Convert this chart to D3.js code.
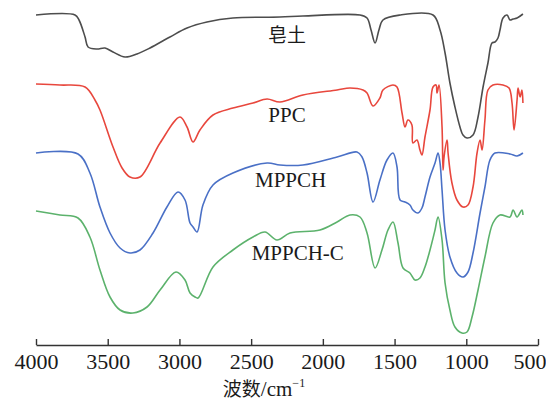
<!DOCTYPE html>
<html>
<head>
<meta charset="utf-8">
<script src="https://cdn.jsdelivr.net/npm/d3@7"></script>
<style>
    html, body { margin: 0; padding: 0; background: #fff; }
    svg { display: block; }
</style>
</head>
<body>
<div id="chart-container"></div>
<script>
// wavenumber (cm-1) and transmittance (offset, a.u.)
const bentoniteWn = [4000, 3728, 3700, 3658, 3637, 3575, 3519, 3463, 3379, 3296, 3205, 3066, 2947, 2808, 2627, 2299, 2139, 1741, 1692, 1664, 1636, 1609, 1581, 1462, 1232, 1183, 1148, 1114, 1079, 1044, 1023, 995, 953, 918, 883, 849, 821, 800, 779, 765, 744, 716, 695, 674, 646, 605];
const bentoniteT = [330, 330, 325, 308, 298, 296, 297, 293, 288, 291, 297, 308, 317, 323, 327, 328, 329, 330, 327, 315, 302, 315, 325, 330, 330, 315, 292, 262, 238, 218, 210, 207, 210, 228, 258, 282, 302, 303, 307, 315, 327, 330, 325, 326, 327, 331];

const ppcWn = [4000, 3833, 3658, 3589, 3554, 3463, 3400, 3345, 3275, 3135, 2996, 2947, 2905, 2857, 2766, 2627, 2487, 2389, 2299, 2139, 1901, 1811, 1720, 1692, 1650, 1602, 1581, 1511, 1483, 1448, 1427, 1407, 1379, 1372, 1344, 1323, 1309, 1288, 1253, 1232, 1211, 1204, 1190, 1169, 1162, 1155, 1134, 1127, 1100, 1065, 1023, 988, 953, 925, 904, 890, 870, 849, 814, 744, 702, 681, 667, 646, 639, 625, 612, 605];
const ppcT = [261, 260, 258, 245, 235, 198, 177, 168, 168, 202, 228, 218, 203, 215, 230, 237, 242, 246, 243, 250, 255, 257, 255, 252, 239, 247, 255, 260, 258, 232, 218, 225, 220, 202, 205, 195, 190, 208, 235, 258, 260, 252, 260, 218, 175, 188, 205, 192, 162, 145, 138, 140, 158, 192, 205, 195, 225, 255, 260, 260, 257, 242, 215, 245, 257, 248, 255, 242];

const mppchWn = [4000, 3707, 3624, 3554, 3484, 3414, 3345, 3275, 3184, 3087, 3010, 2961, 2926, 2905, 2877, 2836, 2766, 2627, 2389, 2299, 2139, 1901, 1762, 1727, 1692, 1650, 1602, 1553, 1511, 1483, 1462, 1427, 1393, 1372, 1337, 1309, 1288, 1253, 1218, 1197, 1183, 1169, 1148, 1114, 1065, 1023, 988, 953, 904, 870, 835, 800, 695, 646, 605];
const mppchT = [192, 191, 172, 138, 112, 97, 92, 95, 112, 138, 153, 145, 122, 118, 113, 140, 160, 172, 182, 180, 180, 188, 193, 188, 172, 143, 165, 185, 192, 178, 145, 143, 140, 135, 132, 137, 148, 168, 182, 192, 182, 155, 115, 88, 72, 68, 73, 92, 132, 158, 185, 192, 191, 189, 192];

const mppchcWn = [4000, 3833, 3707, 3624, 3554, 3484, 3414, 3324, 3226, 3135, 3024, 2961, 2926, 2891, 2870, 2766, 2627, 2487, 2403, 2320, 2229, 2020, 1901, 1811, 1741, 1692, 1636, 1588, 1546, 1511, 1476, 1441, 1393, 1358, 1323, 1288, 1253, 1218, 1197, 1169, 1148, 1114, 1079, 1030, 995, 960, 918, 870, 814, 765, 695, 674, 646, 612, 605];
const mppchcT = [134, 130, 127, 108, 75, 48, 35, 32, 38, 55, 73, 65, 52, 48, 47, 78, 95, 108, 113, 105, 112, 115, 123, 130, 128, 112, 77, 95, 115, 123, 102, 77, 72, 65, 67, 78, 95, 115, 128, 105, 62, 35, 18, 12, 13, 28, 55, 88, 122, 130, 128, 135, 128, 135, 130];

const seriesNames = ["皂土", "PPC", "MPPCH", "MPPCH-C"];
const seriesColors = ["#4d4d4d", "#e8473d", "#4a70c6", "#5cb26c"];
const xTicks = [4000, 3500, 3000, 2500, 2000, 1500, 1000, 500];

const serifFont = '"Liberation Serif", "Times New Roman", serif';
const cjkFont = '"Noto Sans CJK SC", sans-serif';

let width = 546;
let height = 403;
let margin = ({top: 5, right: 8, bottom: 58, left: 36});

function drawSpectra() {
    const series = [
        {name: seriesNames[0], wn: bentoniteWn, t: bentoniteT, color: seriesColors[0], label: [2250, 42]},
        {name: seriesNames[1], wn: ppcWn, t: ppcT, color: seriesColors[1], label: [2250, 122]},
        {name: seriesNames[2], wn: mppchWn, t: mppchT, color: seriesColors[2], label: [2225, 187]},
        {name: seriesNames[3], wn: mppchcWn, t: mppchcT, color: seriesColors[3], label: [2175, 260]}
    ];

    const x = d3.scaleLinear()
        .domain([4000, 500])
        .range([margin.left, width - margin.right]);

    // y in transmittance units, one stacked offset scale for all curves
    const y = d3.scaleLinear()
        .domain([0, 340])
        .range([height - margin.bottom, margin.top]);

    const svg = d3.select("#chart-container")
        .append("svg")
        .attr("width", width)
        .attr("height", height)
        .attr("viewBox", [0, 0, width, height]);

    const line = d3.line()
        .x(d => x(d[0]))
        .y(d => y(d[1]))
        .curve(d3.curveCatmullRom.alpha(0.5));

    svg.append("g")
        .attr("class", "spectra")
        .selectAll("path")
        .data(series)
        .join("path")
        .attr("fill", "none")
        .attr("stroke", d => d.color)
        .attr("stroke-width", 1.6)
        .attr("stroke-linejoin", "round")
        .attr("d", d => line(d.wn.map((w, i) => [w, d.t[i]])));

    // curve labels (label holds wavenumber + pixel baseline)
    svg.append("g")
        .selectAll("text")
        .data(series)
        .join("text")
        .attr("x", d => x(d.label[0]))
        .attr("y", d => d.label[1])
        .attr("text-anchor", "middle")
        .attr("fill", "#1a1a1a")
        .style("font-family", d => d.name === "皂土" ? cjkFont : serifFont)
        .style("font-size", d => d.name === "皂土" ? "19px" : "21px")
        .text(d => d.name);

    const xAxis = g => g
        .attr("transform", `translate(0,${height - margin.bottom})`)
        .call(d3.axisTop(x).tickValues(xTicks).tickSize(6).tickSizeOuter(0).tickFormat(d3.format("d")))
        .call(g => g.select(".domain").attr("stroke", "#333").attr("stroke-width", 1.4))
        .call(g => g.selectAll(".tick line").attr("stroke", "#333").attr("stroke-width", 1.4))
        .call(g => g.selectAll(".tick text")
            .attr("y", 24)
            .attr("dy", 0)
            .attr("fill", "#1a1a1a")
            .style("font-family", serifFont)
            .style("font-size", "22px"))
        // last label sits against the right edge, as in the original
        .call(g => g.selectAll(".tick text").filter(d => d === 500)
            .attr("text-anchor", "end")
            .attr("x", 8));

    svg.append("g")
        .attr("class", "x-axis")
        .call(xAxis);

    const title = svg.append("text")
        .attr("x", 264)
        .attr("y", 396)
        .attr("text-anchor", "middle")
        .attr("fill", "#1a1a1a")
        .style("font-size", "21px");
    title.append("tspan")
        .style("font-family", cjkFont)
        .style("font-size", "19px")
        .text("波数");
    title.append("tspan")
        .style("font-family", serifFont)
        .text("/cm");
    title.append("tspan")
        .style("font-family", serifFont)
        .style("font-size", "12px")
        .attr("dy", -9)
        .text("−1");
}

drawSpectra();
</script>
</body>
</html>
